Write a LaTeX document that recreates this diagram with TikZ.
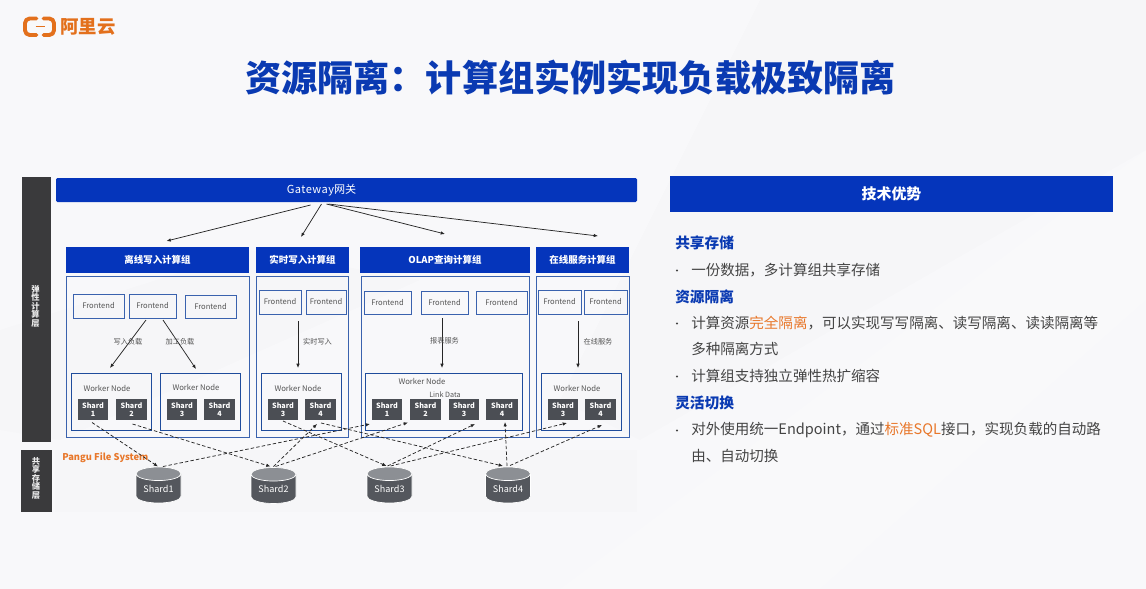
\documentclass[tikz,border=0pt]{standalone}
\usepackage{fontspec}
\setmainfont{Noto Sans CJK SC}
\usetikzlibrary{calc,arrows.meta,shapes.geometric}
\definecolor{slidebg}{HTML}{F8F8FA}
\definecolor{brandblue}{HTML}{0535BB}
\definecolor{titleblue}{HTML}{0A3AB2}
\definecolor{framea}{HTML}{3A62AE}
\definecolor{frameb}{HTML}{1F4C9C}
\definecolor{darkbar}{HTML}{3A3A3C}
\definecolor{shardgray}{HTML}{4B4E54}
\definecolor{capgray}{HTML}{8C8F94}
\definecolor{bodygray}{HTML}{444444}
\definecolor{labelgray}{HTML}{555555}
\definecolor{accent}{HTML}{E8772A}
\definecolor{logoorange}{HTML}{E3701C}
% box given by its corners, in picture units
\newcommand{\bx}[7][]{\node[#1,minimum width={(#5-#3)*.75pt},minimum height={(#6-#4)*.75pt}] (#2) at ({(#3+#5)/2},{(#4+#6)/2}) {#7};}
\tikzset{
  x=.75pt,y=-.75pt,
  boxbase/.style={rectangle,inner sep=0pt,outer sep=0pt},
  bar/.style={boxbase,fill=darkbar},
  barlabel/.style={inner sep=0pt,outer sep=0pt,text=white!92!black,align=center,font=\fontsize{6.2}{6.35}\selectfont\bfseries},
  banner/.style={boxbase,fill=brandblue,text=white},
  grouphead/.style={banner,font=\fontsize{7.1}{8}\selectfont\bfseries},
  groupframe/.style={boxbase,draw=framea,line width=.65pt},
  frontendbox/.style={boxbase,draw=framea,line width=.7pt,text=labelgray,font=\fontsize{5.7}{7}\selectfont},
  workerbox/.style={boxbase,draw=frameb,line width=.65pt},
  shardbox/.style={boxbase,fill=shardgray,text=white,align=center,font=\fontsize{5.4}{6.1}\selectfont\bfseries},
  tiny label/.style={inner sep=0pt,outer sep=0pt,text=labelgray,font=\fontsize{5.4}{6}\selectfont},
  worker label/.style={inner sep=0pt,outer sep=0pt,text=labelgray,font=\fontsize{5.8}{7}\selectfont},
  store/.style={cylinder,shape border rotate=90,aspect=.45,draw=white,line width=.5pt,cylinder uses custom fill,
    cylinder body fill=shardgray!95!white,cylinder end fill=capgray,inner sep=0pt,outer sep=0pt,anchor=shape center,
    minimum width=33.75pt,minimum height=27pt,text=white,font=\fontsize{6.8}{8}\selectfont},
  solidarrow/.style={draw=black!85,line width=.55pt,-{Latex[length=3.2pt,width=2.6pt]}},
  dasharrow/.style={draw=black!85,line width=.55pt,dash pattern=on 2.6pt off 1.6pt,-{Latex[length=3.2pt,width=2.6pt]}},
  subhead/.style={anchor=west,inner sep=0pt,text=titleblue,font=\fontsize{11}{13}\selectfont\bfseries},
  bodyline/.style={anchor=west,inner sep=0pt,text=bodygray,font=\fontsize{10.9}{13}\selectfont},
  dot/.style={circle,fill=bodygray,inner sep=0pt,minimum size=1.6pt},
}
\begin{document}
\begin{tikzpicture}
\useasboundingbox (0,0) rectangle (1146,589);
\fill[slidebg] (0,0) rectangle (1146,589);

% faint streaks of the slide backdrop
\fill[black,opacity=.008] (760,0) -- (1146,0) -- (1146,150) -- (640,440) -- (560,400) -- cycle;
\fill[white,opacity=.15] (1146,150) -- (1146,300) -- (820,589) -- (560,589) -- cycle;
\fill[black,opacity=.008] (0,330) -- (250,250) -- (420,280) -- (60,440) -- (0,430) -- cycle;

% logo
\begin{scope}[draw=logoorange,line width=2.9pt,line cap=round,line join=round]
  \draw[rounded corners=3.5pt] (36.5,18.5) -- (25,18.5) -- (25,35) -- (36.5,35);
  \draw[rounded corners=3.5pt] (43.5,18.5) -- (54,18.5) -- (54,35) -- (43.5,35);
\end{scope}
\draw[logoorange,line width=1.3pt] (35.5,26.5) -- (44.5,26.5);
\node[anchor=west,inner sep=0pt,text=logoorange,font=\fontsize{13.8}{16}\selectfont\bfseries] (logotext) at (60,27) {阿里云};

% title
\node[inner sep=0pt,text=titleblue,font=\fontsize{27.1}{32}\selectfont\bfseries] (title) at (570.5,78) {资源隔离：计算组实例实现负载极致隔离};

% storage strip behind the lower layer
\fill[black,opacity=.008] (55,450) rectangle (637,512);

% layer bars
\bx[bar]{computebar}{22}{177}{51}{442}{}
\bx[bar]{storebar}{21}{450}{52}{512}{}
\node[barlabel] (computelabel) at (35.5,306) {弹\\性\\计\\算\\层};
\node[barlabel] (storelabel) at (36,478) {共\\享\\存\\储\\层};

% gateway
\bx[banner,rounded corners=1pt,font=\fontsize{8.3}{10}\selectfont]{gateway}{56}{178}{637}{202}{\addfontfeature{LetterSpace=4}Gateway\addfontfeature{LetterSpace=0}网关\hspace*{37.5pt}}

% compute group headers and frames
\bx[grouphead]{headA}{66}{247}{249}{273}{离线写入计算组}
\bx[grouphead]{headB}{256}{247}{349}{273}{实时写入计算组}
\bx[grouphead]{headC}{360}{247}{530}{273}{OLAP查询计算组}
\bx[grouphead]{headD}{536}{247}{629}{273}{在线服务计算组}
\bx[groupframe]{frameA}{66}{276}{249}{437}{}
\bx[groupframe]{frameB}{256}{276}{348.5}{437}{}
\bx[groupframe]{frameC}{361}{276}{529}{437}{}
\bx[groupframe]{frameD}{536}{276}{629}{437}{}

% frontends
\bx[frontendbox]{feA1}{73}{294}{124}{318}{Frontend}
\bx[frontendbox]{feA2}{129}{294}{176}{318}{Frontend}
\bx[frontendbox]{feA3}{185}{295}{236}{318}{Frontend}
\bx[frontendbox]{feB1}{259}{290}{301}{314}{Frontend}
\bx[frontendbox]{feB2}{306}{290}{346}{314}{Frontend}
\bx[frontendbox]{feC1}{364}{291}{411}{314}{Frontend}
\bx[frontendbox]{feC2}{421}{291}{468}{314}{Frontend}
\bx[frontendbox]{feC3}{476}{291}{527}{314}{Frontend}
\bx[frontendbox]{feD1}{538}{290}{581}{314}{Frontend}
\bx[frontendbox]{feD2}{584}{290}{627}{314}{Frontend}

% worker frames
\bx[workerbox]{wkA1}{71}{373}{151}{430}{}
\bx[workerbox]{wkA2}{160}{373}{240}{430}{}
\bx[workerbox]{wkB}{261}{373}{341}{430}{}
\bx[workerbox]{wkC}{365}{373}{522.5}{430}{}
\bx[workerbox]{wkD}{541}{373}{621}{430}{}
\node[worker label] (wlA1) at (107,388) {Worker Node};
\node[worker label] (wlA2) at (196,387) {Worker Node};
\node[worker label] (wlB) at (298,388) {Worker Node};
\node[worker label] (wlC) at (422,381) {Worker Node};
\node[worker label] (wlD) at (577,388) {Worker Node};
\node[tiny label] (linkdata) at (445,394.5) {Link Data};

% shards
\bx[shardbox]{sA1}{78}{399}{108}{420}{Shard\\1}
\bx[shardbox]{sA2}{116}{399}{147}{420}{Shard\\2}
\bx[shardbox]{sA3}{167}{399}{197}{420}{Shard\\3}
\bx[shardbox]{sA4}{204}{399}{235}{420}{Shard\\4}
\bx[shardbox]{sB3}{268}{399}{298}{420}{Shard\\3}
\bx[shardbox]{sB4}{305}{399}{336}{420}{Shard\\4}
\bx[shardbox]{sC1}{372}{399}{402}{420}{Shard\\1}
\bx[shardbox]{sC2}{410}{399}{441}{420}{Shard\\2}
\bx[shardbox]{sC3}{449}{399}{479}{420}{Shard\\3}
\bx[shardbox]{sC4}{486}{399}{518}{420}{Shard\\4}
\bx[shardbox]{sD3}{548}{399}{578}{420}{Shard\\3}
\bx[shardbox]{sD4}{585}{399}{616}{420}{Shard\\4}

% shared storage
\node[inner sep=0pt,anchor=west,text=accent,font=\fontsize{7}{8}\selectfont\bfseries] (pangu) at (62,457.5) {Pangu File System};
\node[store] (diskA) at (158.5,485) {Shard1};
\node[store] (diskB) at (273.5,485.5) {Shard2};
\node[store] (diskC) at (389.5,485) {Shard3};
\node[store] (diskD) at (508,485) {Shard4};

% routes from the gateway
\draw[solidarrow] ($(gateway.south)+(-36,3)$) -- ($(headA.north)+(9,-6)$);
\draw[solidarrow] ($(gateway.south)+(-25,2)$) -- ($(headB.north)+(-1.5,-10)$);
\draw[solidarrow] ($(gateway.south)+(-20,2)$) -- ($(headC.north)+(0,-13)$);
\draw[solidarrow] ($(gateway.south)+(-18,2)$) -- ($(headD.north)+(15.5,-11)$);

% routes from frontends to workers
\draw[solidarrow] ($(feA2.south)+(-6.5,2)$) -- ($(wkA1.north)+(-1,-5)$);
\draw[solidarrow] ($(feA2.south)+(10.5,2)$) -- ($(wkA2.north)+(-4,-4)$);
\draw[solidarrow] ($(feB1.south)+(18,7)$) -- ($(wkB.north)+(-3,-5)$);
\draw[solidarrow] ($(feC2.south)+(-2.5,4)$) -- ($(wkC.north)+(-1.75,-5)$);
\draw[solidarrow] ($(feD1.south)+(18.5,7)$) -- ($(wkD.north)+(-3,-5)$);
\node[tiny label] (lblwrite) at (128,342) {写入负载};
\node[tiny label] (lbladd) at (180,342) {加工负载};
\node[tiny label] (lblrt) at (317.5,342) {实时写入};
\node[tiny label] (lblrep) at (444.5,341) {报表服务};
\node[tiny label] (lblon) at (598,342) {在线服务};

% shard replicas to disks
\draw[dasharrow] ($(sA1.south)+(-1,2.5)$) -- ($(diskA.north)+(-0.5,-0.5)$);
\draw[dasharrow] ($(sA2.south)+(1,4)$) -- ($(diskB.north)+(-3,-1)$);
\draw[dasharrow] ($(sB3.south)+(0,1)$) -- ($(diskC.north)+(-3,-1)$);
\draw[dasharrow] ($(sB4.south)+(0.5,3)$) -- ($(diskD.north)+(-5,-1)$);

% disks back up to the shards they serve
\draw[dasharrow] ($(diskA.north)+(4.5,-0.5)$) -- ($(sC1.south)+(-17,4)$);
\draw[dasharrow] ($(diskB.north)+(0,-1)$) -- ($(sB4.south)+(-3.5,4)$);
\draw[dasharrow] ($(diskB.north)+(2,-1)$) -- ($(sC2.south)+(-17.5,2.5)$);
\draw[dasharrow] ($(diskC.north)+(-2,-1)$) -- ($(sC3.south)+(11,4)$);
\draw[dasharrow] ($(diskC.north)+(1,-1)$) -- ($(sD3.south)+(4,3)$);
\draw[dasharrow] ($(diskD.north)+(-1,-1)$) -- ($(sC4.south)+(3,2)$);
\draw[dasharrow] ($(diskD.north)+(2,-1.5)$) -- ($(sD4.south)+(1.5,5)$);

% advantages panel
\bx[banner,font=\fontsize{11.2}{13}\selectfont\bfseries]{advhead}{670}{176}{1113}{212}{技术优势}
\node[subhead] (h1) at (675,243) {共享存储};
\node[dot] (b1) at (677,270.5) {};
\node[bodyline] (t1) at (691,270) {一份数据，多计算组共享存储};
\node[subhead] (h2) at (675,296.5) {资源隔离};
\node[dot] (b2) at (677,323.5) {};
\node[bodyline] (t2) at (691,323) {计算资源\textcolor{accent}{完全隔离}，可以实现写写隔离、读写隔离、读读隔离等};
\node[bodyline] (t2b) at (691,349) {多种隔离方式};
\node[dot] (b3) at (677,376.5) {};
\node[bodyline] (t3) at (691,376) {计算组支持独立弹性热扩缩容};
\node[subhead] (h3) at (675,403) {灵活切换};
\node[dot] (b4) at (677,430.5) {};
\node[bodyline] (t4) at (691,430) {对外使用统一Endpoint，通过\textcolor{accent}{标准SQL}接口，实现负载的自动路};
\node[bodyline] (t4b) at (691,456) {由、自动切换};
\end{tikzpicture}
\end{document}
